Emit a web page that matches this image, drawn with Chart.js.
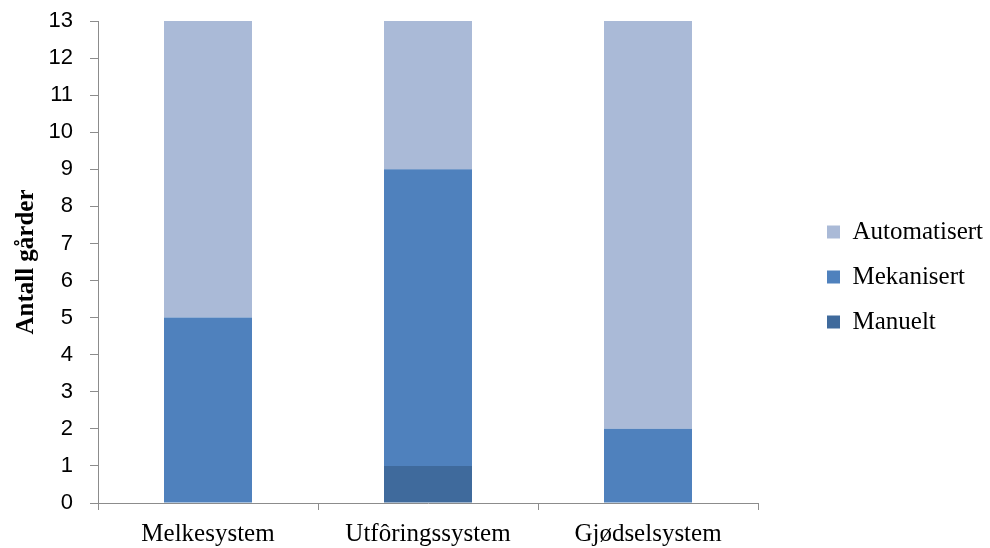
<!DOCTYPE html>
<html>
<head>
<meta charset="utf-8">
<script src="https://cdn.jsdelivr.net/npm/chart.js@4/dist/chart.umd.min.js"></script>
<style>
  html, body { margin: 0; padding: 0; background: #ffffff; }
  #wrap { width: 990px; height: 548px; }
</style>
</head>
<body>
<div id="wrap"><canvas id="c" width="990" height="548"></canvas></div>
<script>
// Systems on the farms and how many farms run each level of technology
const categories = ['Melkesystem', 'Utfôringssystem', 'Gjødselsystem'];
const manuelt = [0, 1, 0];
const mekanisert = [5, 8, 2];
const automatisert = [8, 4, 11];
const yTicks = [0, 1, 2, 3, 4, 5, 6, 7, 8, 9, 10, 11, 12, 13];

const axisGray = '#8c8c8c';
const serif = "'Liberation Serif', 'Times New Roman', serif";
const sans = "'Liberation Sans', Arial, sans-serif";

// Fixed legend column at the right, with its first box offset into it
const legendPlacement = {
  id: 'legendPlacement',
  beforeInit(chart) {
    const legend = chart.legend;
    const origFit = legend.fit;
    legend.fit = function () {
      origFit.call(this);
      this.width = 232;
    };
  },
  afterLayout(chart) {
    chart.legend.left = 807;
    chart.legend.top = 6;
    chart.legend.bottom = 548;
  }
};

new Chart(document.getElementById('c'), {
  type: 'bar',
  data: {
    labels: categories,
    datasets: [
      { label: 'Manuelt', data: manuelt, backgroundColor: '#3f6a9c' },
      { label: 'Mekanisert', data: mekanisert, backgroundColor: '#4f81bd' },
      { label: 'Automatisert', data: automatisert, backgroundColor: '#aabad7' }
    ]
  },
  options: {
    responsive: false,
    animation: false,
    layout: { padding: { top: 21, left: 0, right: 0, bottom: 0 } },
    datasets: { bar: { categoryPercentage: 1, barPercentage: 0.4, borderWidth: 0 } },
    scales: {
      x: {
        stacked: true,
        offset: true,
        border: { display: true, color: axisGray, width: 1 },
        grid: { display: true, drawOnChartArea: false, drawTicks: true, tickLength: 7, color: axisGray, offset: true },
        ticks: { color: '#000', padding: 9, font: { family: serif, size: 25 }, maxRotation: 0 },
        afterFit(scale) { scale.height = 45; }
      },
      y: {
        stacked: true,
        min: 0,
        max: 13,
        afterBuildTicks(scale) { scale.ticks = yTicks.map(v => ({ value: v })); },
        border: { display: true, color: axisGray, width: 1 },
        grid: { display: true, drawOnChartArea: false, drawTicks: true, tickLength: 8, color: axisGray },
        ticks: { color: '#000', padding: 17, font: { family: sans, size: 22 } },
        title: {
          display: true,
          text: 'Antall gårder',
          color: '#000',
          padding: { top: 12, bottom: 0 },
          font: { family: serif, size: 25, weight: 'bold' }
        },
        afterFit(scale) {
          scale.width = 98;
          scale.paddingTop = 0;
          scale.paddingBottom = 0;
        }
      }
    },
    plugins: {
      legend: {
        position: 'right',
        reverse: true,
        labels: {
          color: '#000',
          boxWidth: 13,
          boxHeight: 13,
          padding: 20,
          font: { family: serif, size: 25 }
        }
      },
      tooltip: { enabled: false }
    }
  },
  plugins: [legendPlacement]
});
</script>
</body>
</html>
